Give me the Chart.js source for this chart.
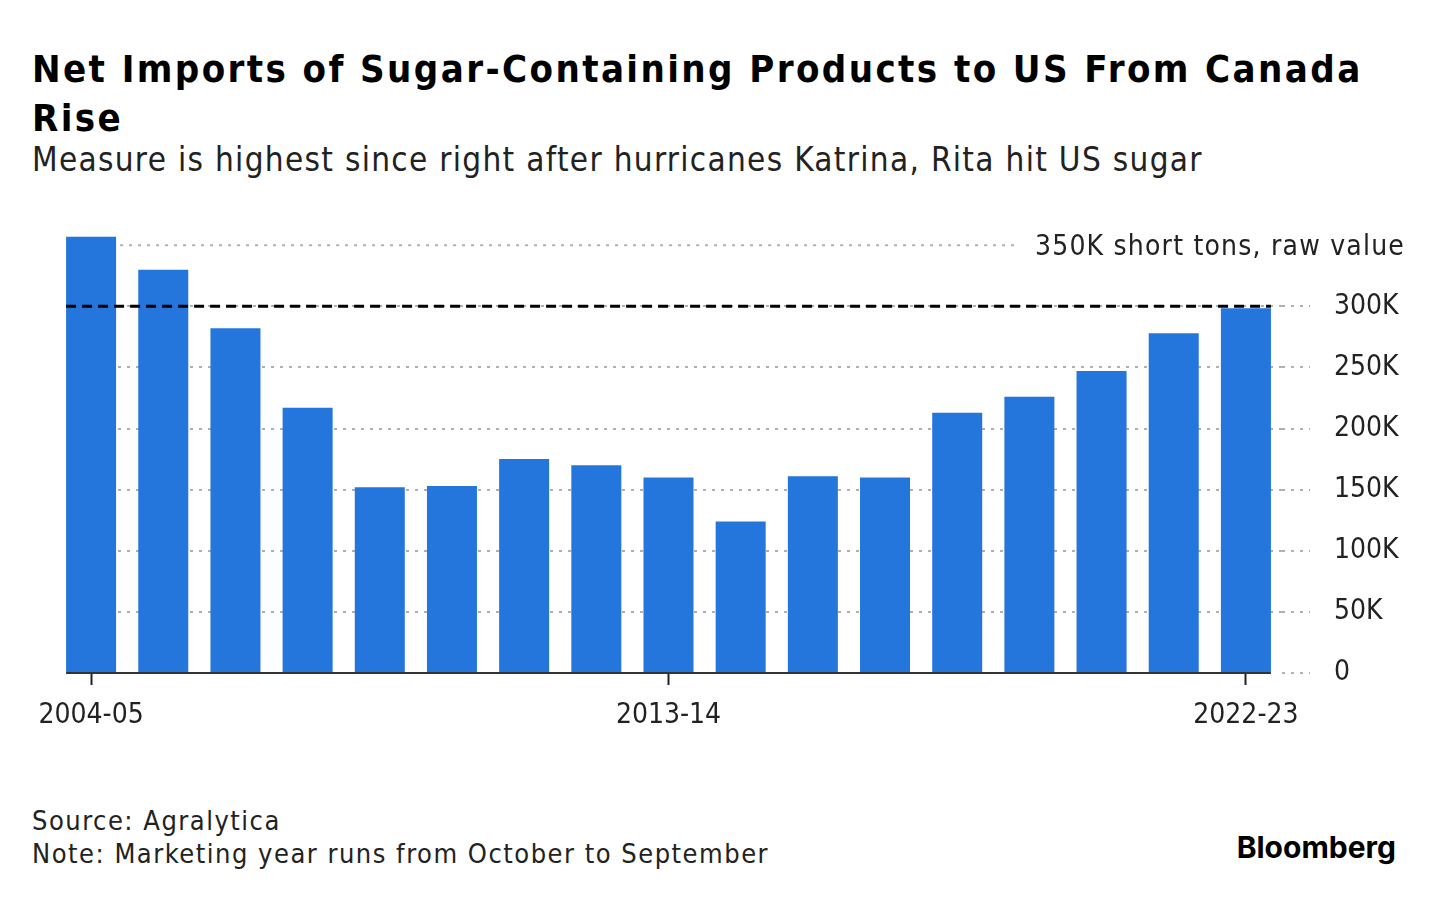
<!DOCTYPE html>
<html>
<head>
<meta charset="utf-8">
<script src="https://cdn.jsdelivr.net/npm/chart.js@4.4.1/dist/chart.umd.min.js"></script>
<style>
    body {
        margin: 0;
        width: 1440px;
        height: 898px;
        position: relative;
        overflow: hidden;
        background: #fff;
        font-family: 'DejaVu Sans Condensed', 'DejaVu Sans', sans-serif;
        color: #222;
    }
    #titulo {
        position: absolute;
        left: 32px;
        top: 45px;
        font-size: 38px;
        line-height: 49px;
        letter-spacing: 2.4px;
        font-weight: bold;
        color: #000;
        white-space: nowrap;
    }
    #subtitulo {
        position: absolute;
        left: 32px;
        top: 140px;
        font-size: 33px;
        line-height: 40px;
        letter-spacing: 1.3px;
        white-space: nowrap;
    }
    #grafico-box {
        position: absolute;
        left: 0;
        top: 190px;
        width: 1440px;
        height: 580px;
    }
    #fonte {
        position: absolute;
        left: 32px;
        top: 804px;
        font-size: 27px;
        line-height: 33px;
        letter-spacing: 1.5px;
        white-space: nowrap;
    }
    #logo {
        position: absolute;
        right: 44px;
        top: 827px;
        font-family: Inter, 'Open Sans', sans-serif;
        font-weight: 700;
        font-size: 30px;
        line-height: 40px;
        color: #000;
    }
</style>
</head>
<body>
<div id="titulo">Net Imports of Sugar-Containing Products to US From Canada<br>Rise</div>
<div id="subtitulo">Measure is highest since right after hurricanes Katrina, Rita hit US sugar</div>
<div id="grafico-box"><canvas id="grafico" width="1440" height="580"></canvas></div>
<div id="fonte">Source: Agralytica<br>Note: Marketing year runs from October to September</div>
<div id="logo">Bloomberg</div>

<script>
// Marketing years shown as bars (only three carry a tick label)
const marketingYears = ['2004-05', '2005-06', '2006-07', '2007-08', '2008-09', '2009-10', '2010-11', '2011-12',
    '2013-14', '2014-15', '2015-16', '2016-17', '2017-18', '2018-19', '2019-20', '2020-21', '2022-23'];
const xTickLabels = ['2004-05', '2013-14', '2022-23'];

// Net imports, short tons raw value
const netImports = [357000, 330000, 282000, 217000, 152000, 153000, 175000, 170000,
    160000, 124000, 161000, 160000, 213000, 226000, 247000, 278000, 298500];

const yTicks = [0, 50000, 100000, 150000, 200000, 250000, 300000, 350000];
const yMax = 360000;
const referenceLevel = 300000;
const unitLabel = '350K short tons, raw value';

const fonteEixo = "'DejaVu Sans Condensed', 'DejaVu Sans', sans-serif";
const corTexto = '#222';
const corGrade = '#b0b0b0';
const corBarra = '#2576dc';

function formatarTick(valor) {
    if (valor === 0) return '0';
    return `${valor / 1000}K`;
}

// Draws the unit label, the baseline and the dashed reference line
const extrasPlugin = {
    id: 'extras',
    beforeDatasetsDraw(chart) {
        const { ctx, chartArea, scales } = chart;
        const barras = chart.getDatasetMeta(0).data;
        const inicio = barras[0].x - barras[0].width / 2;
        const topo = yTicks[yTicks.length - 1];
        const yPix = scales.y.getPixelForValue(topo);

        ctx.save();
        // no grid stub left of the first bar
        ctx.fillStyle = '#fff';
        ctx.fillRect(chartArea.left - 1, chartArea.top - 2, inicio - chartArea.left + 1, chartArea.bottom - chartArea.top + 4);

        ctx.font = `28px ${fonteEixo}`;
        ctx.letterSpacing = '1.2px';
        ctx.textAlign = 'right';
        ctx.textBaseline = 'middle';
        ctx.fillStyle = corTexto;
        const direita = chart.width - 35;
        ctx.fillText(unitLabel, direita, yPix + 2);
        const larguraTexto = ctx.measureText(unitLabel).width;
        ctx.letterSpacing = '0px';

        ctx.strokeStyle = corGrade;
        ctx.lineWidth = 2;
        ctx.setLineDash([3, 6]);
        ctx.beginPath();
        ctx.moveTo(inicio, yPix);
        ctx.lineTo(direita - larguraTexto - 18, yPix);
        ctx.stroke();
        ctx.restore();
    },
    afterDatasetsDraw(chart) {
        const { ctx, scales } = chart;
        const barras = chart.getDatasetMeta(0).data;
        const inicio = barras[0].x - barras[0].width / 2;
        const ultima = barras[barras.length - 1];
        const fim = ultima.x + ultima.width / 2;

        ctx.save();
        // baseline
        const y0 = scales.y.getPixelForValue(0);
        ctx.strokeStyle = '#333';
        ctx.lineWidth = 2;
        ctx.beginPath();
        ctx.moveTo(inicio, y0);
        ctx.lineTo(fim, y0);
        ctx.stroke();

        // dashed reference line
        const yRef = scales.y.getPixelForValue(referenceLevel);
        ctx.strokeStyle = '#000';
        ctx.lineWidth = 3;
        ctx.setLineDash([10, 6]);
        ctx.beginPath();
        ctx.moveTo(inicio, yRef);
        ctx.lineTo(fim, yRef);
        ctx.stroke();
        ctx.restore();
    }
};

function desenharGrafico() {
    const ctx = document.getElementById('grafico').getContext('2d');

    new Chart(ctx, {
        type: 'bar',
        data: {
            labels: marketingYears,
            datasets: [{
                data: netImports,
                backgroundColor: corBarra,
                borderWidth: 0,
                barPercentage: 0.693,
                categoryPercentage: 1
            }]
        },
        options: {
            responsive: false,
            animation: false,
            devicePixelRatio: 1,
            layout: {
                padding: { top: 43, left: 55, right: 0, bottom: 0 }
            },
            plugins: {
                legend: { display: false },
                tooltip: { enabled: false }
            },
            scales: {
                x: {
                    offset: true,
                    afterFit: (scale) => { scale.height = 97; },
                    border: { display: false },
                    grid: {
                        offset: false,
                        drawOnChartArea: false,
                        tickLength: 12,
                        tickWidth: 2,
                        color: (c) => xTickLabels.includes(marketingYears[c.index]) ? '#222' : 'rgba(0,0,0,0)'
                    },
                    ticks: {
                        autoSkip: false,
                        maxRotation: 0,
                        padding: 14,
                        color: corTexto,
                        font: { family: fonteEixo, size: 28 },
                        callback: (valor, i) => xTickLabels.includes(marketingYears[i]) ? marketingYears[i] : ''
                    }
                },
                y: {
                    position: 'right',
                    min: 0,
                    max: yMax,
                    afterBuildTicks: (scale) => { scale.ticks = yTicks.map(v => ({ value: v })); },
                    afterFit: (scale) => { scale.width = 158; },
                    border: { display: false, dash: [3, 6] },
                    grid: {
                        lineWidth: 2,
                        tickLength: 28,
                        tickWidth: 2,
                        tickBorderDash: [3, 6],
                        color: (c) => (c.tick && (c.tick.value === 0 || c.tick.value === 350000)) ? 'rgba(0,0,0,0)' : corGrade,
                        tickColor: (c) => (c.tick && c.tick.value === 350000) ? 'rgba(0,0,0,0)' : corGrade
                    },
                    ticks: {
                        padding: 24,
                        color: corTexto,
                        font: { family: fonteEixo, size: 28 },
                        callback: (valor) => valor === 350000 ? '' : formatarTick(valor)
                    }
                }
            }
        },
        plugins: [extrasPlugin]
    });
}

document.addEventListener('DOMContentLoaded', desenharGrafico);
</script>
</body>
</html>
